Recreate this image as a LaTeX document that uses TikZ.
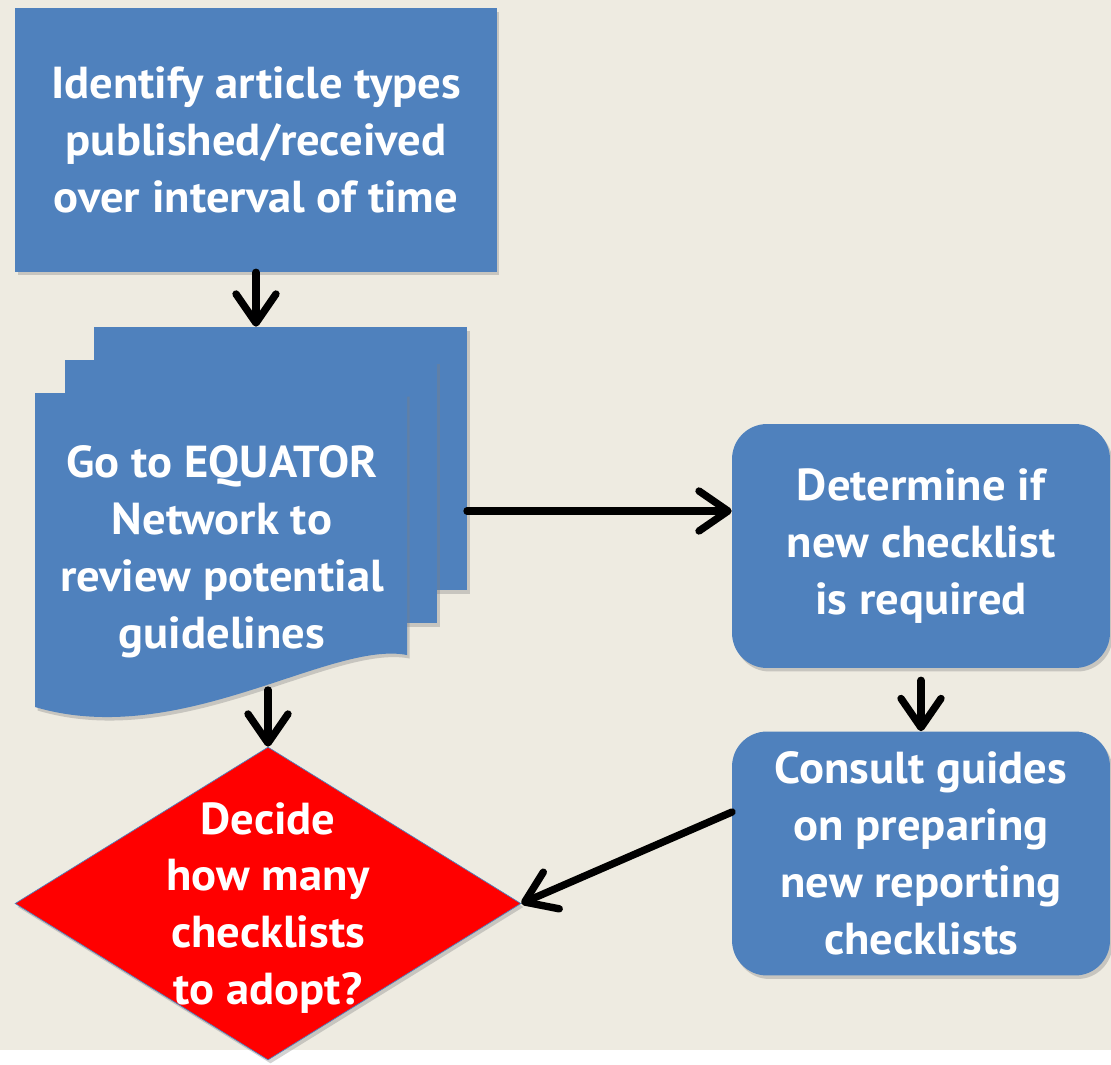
\documentclass[tikz,border=0pt]{standalone}
\usepackage{fontspec}
\setmainfont{PT Sans}[FakeStretch=1.04]
\usetikzlibrary{arrows.meta,positioning,shapes.geometric,shadows}
\definecolor{boxblue}{HTML}{4F81BD}
\definecolor{paper}{HTML}{EEEBE1}

\begin{document}
\begin{tikzpicture}[x=0.02cm,y=-0.02cm,
  every node/.style={text=white,font=\fontsize{25.5}{32.4}\selectfont\bfseries,align=center}
]

\tikzstyle{boxshadow}=[drop shadow={shadow xshift=0.05cm,shadow yshift=-0.07cm,opacity=0.35}]
\tikzstyle{process}=[rectangle,fill=boxblue,boxshadow,minimum width=9.64cm,minimum height=5.28cm]
\tikzstyle{roundbox}=[rectangle,rounded corners=0.7cm,fill=boxblue,boxshadow,minimum width=7.56cm,minimum height=4.88cm]
\tikzstyle{decision}=[diamond,fill=red,draw=boxblue,thin,inner sep=0pt,boxshadow,minimum width=10.12cm,minimum height=6.26cm]
\tikzstyle{page}=[fill=boxblue,boxshadow]
\tikzset{flow/.style={line width=4.2pt,line cap=round,-{Straight Barb[length=5.8mm,width=8mm,round]}}}

\fill[paper] (0,0) rectangle (1111,1050);
\useasboundingbox (0,0) rectangle (1111,1064);

\node[process] (ident) at (256,140) {Identify article types\\published/received\\over interval of time};

% stack of pages
\fill[page] (94,327) rectangle (467,590);
\fill[page] (65,360) rectangle (437,623);
\fill[page] (35,393) -- (407,393) -- (407,655) .. controls (330,640) and (180,750) .. (35,707) -- cycle;
\node[inner sep=0pt,minimum width=8.64cm,minimum height=7.9cm] (equator) at (251,524.5) {};
\node (equatortxt) at (222,552) {Go to EQUATOR\\Network to\\review potential\\guidelines};

\node[roundbox] (determine) at (921,546) {Determine if\\new checklist\\is required};
\node[roundbox] (consult) at (921,853.5) {Consult guides\\on preparing\\new reporting\\checklists};

\node[decision] (decide) at (268,903.5) {};
\node (decidetxt) at (268,908) {Decide\\how many\\checklists\\to adopt?};

\coordinate (eqout) at (467,511);
\coordinate (eqbottom) at (268,690);
\coordinate (consout) at (732,812);

\draw[flow] (ident.south) -- (ident.south |- equator.north);
\draw[flow] (eqout) -- (eqout -| determine.west);
\draw[flow,shorten <=0.24cm] (determine.south) -- (consult.north);
\draw[flow] (consout) -- (decide.east);
\draw[flow] (eqbottom) -- (decide.north);

\end{tikzpicture}
\end{document}
